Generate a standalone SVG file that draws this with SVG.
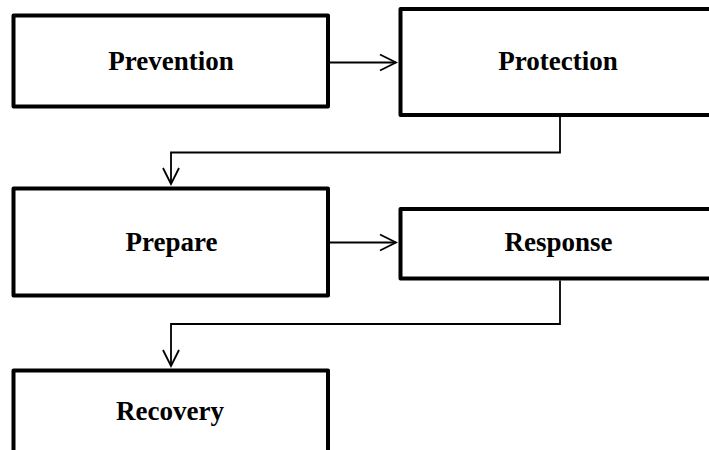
<svg xmlns="http://www.w3.org/2000/svg" width="709" height="450" viewBox="0 0 709 450">
<style>
.box{fill:#fff;stroke:#000;stroke-width:4;stroke-linejoin:round}
.lbl{font-family:"Liberation Serif","Times New Roman",serif;font-weight:bold;font-size:27px;fill:#000;text-anchor:middle}
.con{fill:none;stroke:#000;stroke-width:1.8}
</style>
<defs>
<marker id="arr" markerUnits="userSpaceOnUse" markerWidth="20" markerHeight="20" viewBox="-17 -10 20 20" refX="0" refY="0" orient="auto">
<path d="M-16,-8 L0,0 L-16,8" fill="none" stroke="#000" stroke-width="1.8"/>
</marker>
</defs>
<rect width="709" height="450" fill="#fff"/>
<g id="connectors">
<path class="con" d="M330,62.5 L396,62.5" marker-end="url(#arr)"/>
<path class="con" d="M560,117 L560,152.5 L171,152.5 L171,184" marker-end="url(#arr)"/>
<path class="con" d="M330,242.5 L396,242.5" marker-end="url(#arr)"/>
<path class="con" d="M560,280.5 L560,324 L171,324 L171,366" marker-end="url(#arr)"/>
</g>
<g id="prevention">
<rect class="box" x="13.5" y="15.5" width="314.5" height="91"/>
<text class="lbl" x="171" y="70">Prevention</text>
</g>
<g id="protection">
<rect class="box" x="400.5" y="9" width="314" height="106"/>
<text class="lbl" x="558" y="70">Protection</text>
</g>
<g id="prepare">
<rect class="box" x="13.5" y="188.5" width="314.5" height="107"/>
<text class="lbl" x="171.5" y="250.5">Prepare</text>
</g>
<g id="response">
<rect class="box" x="400.5" y="209" width="314" height="69.5"/>
<text class="lbl" x="558.5" y="250.5">Response</text>
</g>
<g id="recovery">
<rect class="box" x="13.5" y="370.5" width="314.5" height="110"/>
<text class="lbl" x="170" y="420">Recovery</text>
</g>
</svg>
